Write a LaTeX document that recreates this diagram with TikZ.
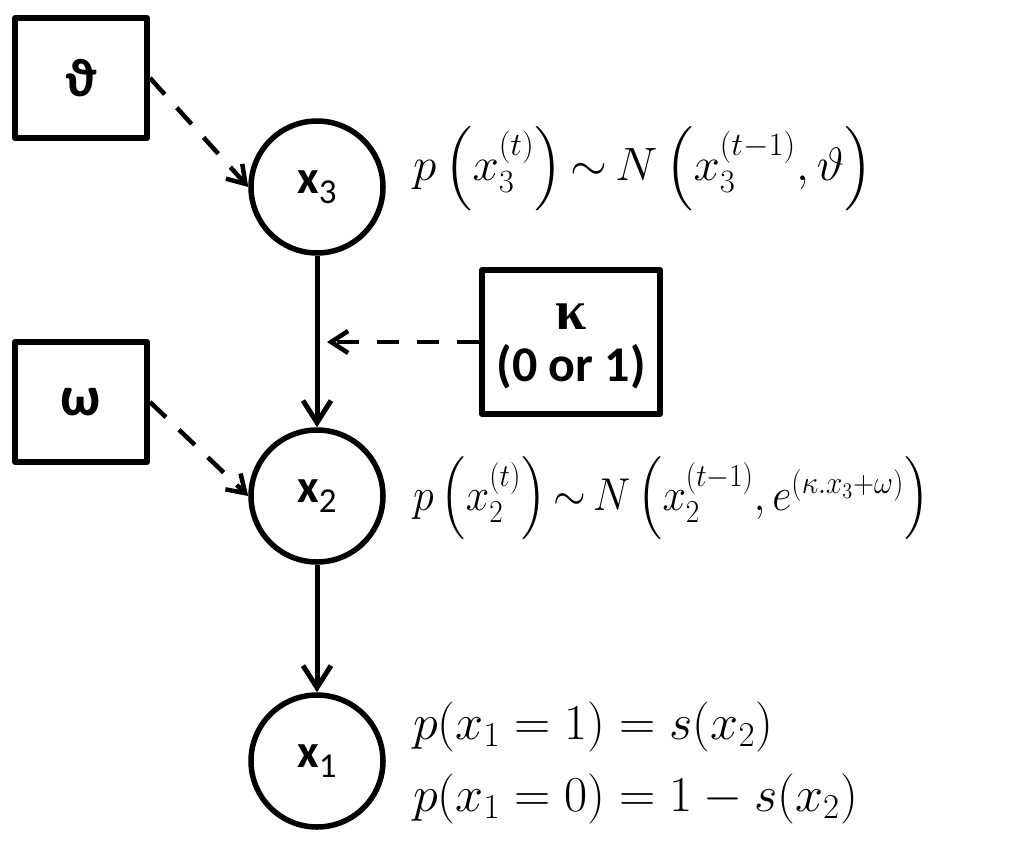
\documentclass[tikz,border=0pt]{standalone}
\usepackage{amsmath}
\usepackage{graphicx}
\usepackage[no-math]{fontspec}
\newfontfamily\calb{Carlito}
\newfontfamily\dvs{DejaVu Sans}
\newfontfamily\libser{Liberation Serif}
\usetikzlibrary{arrows.meta,calc}
\tikzset{
  varnode/.style={circle,draw,line width=5.5pt,minimum size=132pt,inner sep=0pt,
    font=\calb\fontsize{47}{50}\selectfont\bfseries},
  parbox/.style={rectangle,draw,line width=6pt,inner sep=0pt,line join=round},
  boxtext/.style={inner sep=0pt,align=center},
  solidarrow/.style={line width=5pt,-{Straight Barb[length=22pt,width=28pt]}},
  dasharrow/.style={line width=4.5pt,dash pattern=on 22pt off 18pt,
    -{Straight Barb[length=17pt,width=22pt]}},
  eqtext/.style={anchor=base west,inner sep=0pt,font=\fontsize{23}{27}\selectfont}
}
\newcommand{\subdig}[1]{\raisebox{-10pt}{\fontsize{35}{37}\selectfont\mdseries #1}}
\newcommand{\bigeq}[1]{\scalebox{2.02}{#1}}
\begin{document}
\begin{tikzpicture}[x=1pt,y=-1pt]
\fill[white] (0,0) rectangle (1024,843);
\useasboundingbox (0,0) rectangle (1024,843);
% boxes
\node[parbox,minimum width=132pt,minimum height=120pt,
  font=\calb\fontsize{54}{56}\selectfont\bfseries] (theta) at (81,78) {ϑ};
\node[parbox,minimum width=132pt,minimum height=120pt,
  font=\calb\fontsize{56}{58}\selectfont\bfseries] (omega) at (81,402) {ω};
\node[parbox,minimum width=178pt,minimum height=144pt] (kappa) at (571,342) {};
\node[boxtext,font=\calb\fontsize{50}{52}\selectfont\bfseries] (kappatext) at (571,346)
  {{\libser\fontsize{56}{52}\selectfont\bfseries κ}\\(0 or 1)};
% variable nodes
\node[varnode] (x3) at (317,187) {x\subdig{3}};
\node[varnode] (x2) at (317,496) {x\subdig{2}};
\node[varnode] (x1) at (317,761) {x\subdig{1}};
% connectors
\draw[solidarrow] (x3) -- (x2);
\draw[solidarrow] (x2) -- (x1);
\draw[dasharrow] (theta.east) -- (x3.west);
\draw[dasharrow] (omega.east) -- (x2.west);
\coordinate (kt) at ($(kappa.west -| x3.center)+(10pt,0)$);
\draw[dasharrow] (kappa.west) -- (kt);
% equations
\node[eqtext] (eq3) at (413,180)
  {\scalebox{1.9}[1.88]{$\thickmuskip=3mu p\,\Bigl(x_3^{(t)}\Bigr)\sim N\,\Bigl(x_3^{(t-1)},\vartheta\Bigr)$}};
\node[eqtext] (eq2) at (413,510)
  {\scalebox{1.69}[1.85]{$\thickmuskip=3mu p\,\Bigl(x_2^{(t)}\Bigr)\sim N\,\Bigl(x_2^{(t-1)},e^{(\kappa.x_3+\omega)}\Bigr)$}};
\node[eqtext] (eq1a) at (413,739) {\bigeq{$p(x_1=1)=s(x_2)$}};
\node[eqtext] (eq1b) at (413,811) {\bigeq{$p(x_1=0)=1-s(x_2)$}};
\end{tikzpicture}
\end{document}
